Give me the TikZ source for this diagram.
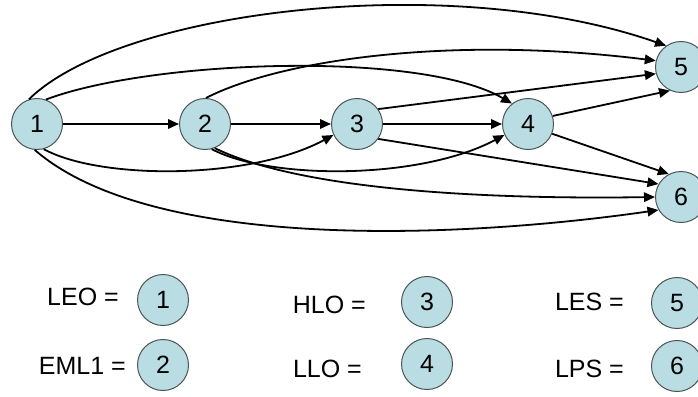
\documentclass[tikz,border=0pt]{standalone}
\usepackage{fontspec}
\setmainfont{Liberation Sans}
\usetikzlibrary{arrows.meta}
\definecolor{nodefill}{RGB}{185,221,227}
\definecolor{nodeline}{RGB}{75,85,85}
\begin{document}
\begin{tikzpicture}[x=1pt,y=-1pt,
  event/.style={circle,draw=nodeline,line width=1pt,fill=nodefill,
    minimum size=51pt,inner sep=0pt,font=\fontsize{25}{25}\selectfont},
  legendtext/.style={anchor=east,inner sep=0pt,font=\fontsize{25}{25}\selectfont},
  edge/.style={line width=1.8pt,-{Triangle[length=11pt,width=9.5pt]}}]
\useasboundingbox (0,0) rectangle (698,396);
\fill[white] (0,0) rectangle (698,396);

% activity network
\node[event] (n1) at (37,124) {1};
\node[event] (n2) at (205,124) {2};
\node[event] (n3) at (357,124) {3};
\node[event] (n4) at (528,124) {4};
\node[event] (n5) at (681,67) {5};
\node[event] (n6) at (681,197) {6};

\draw[edge] (n1) -- (n2);
\draw[edge] (n2) -- (n3);
\draw[edge] (n3) -- (n4);
\draw[edge] (n3.35) -- (n5.195);
\draw[edge] (n4.18) -- (n5.245);
\draw[edge] (n3.-35) -- (n6.150);
\draw[edge] (n4.-22) -- (n6.118);
\draw[edge] (n1.108) .. controls (120,10) and (450,-30) .. (n5.125);
\draw[edge] (n1.70) .. controls (150,60) and (420,50) .. (n4.128);
\draw[edge] (n2.88) .. controls (280,60) and (450,35) .. (n5.166);
\draw[edge] (n1.-75) .. controls (100,180) and (250,180) .. (n3.-155);
\draw[edge] (n2.-75) .. controls (270,180) and (420,180) .. (n4.-155);
\draw[edge] (n2.-68) .. controls (290,185) and (450,200) .. (n6.180);
\draw[edge] (n1.-95) .. controls (150,250) and (450,240) .. (n6.-150);

% legend
\node[legendtext] (tleo) at (119,297) {LEO =};
\node[event] (l1) at (163,300) {1};
\node[legendtext] (teml) at (126,366) {EML1 =};
\node[event] (l2) at (163,365) {2};
\node[legendtext] (thlo) at (366,305) {HLO =};
\node[event] (l3) at (427,302) {3};
\node[legendtext] (tllo) at (362,369) {LLO =};
\node[event] (l4) at (427,364) {4};
\node[legendtext] (tles) at (624,302) {LES =};
\node[event] (l5) at (677,303) {5};
\node[legendtext] (tlps) at (624,369) {LPS =};
\node[event] (l6) at (677,366) {6};
\end{tikzpicture}
\end{document}
